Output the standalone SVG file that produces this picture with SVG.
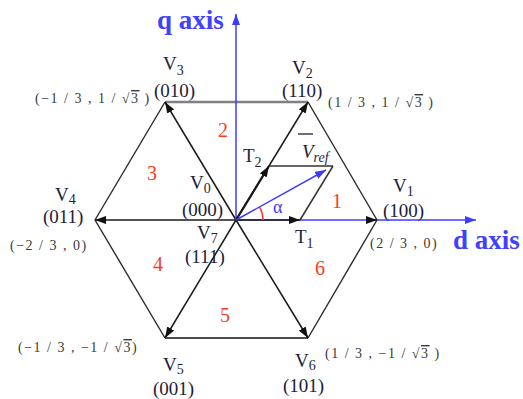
<svg xmlns="http://www.w3.org/2000/svg" width="523" height="399" viewBox="0 0 523 399">
<defs>
<marker id="ah" markerUnits="userSpaceOnUse" markerWidth="12" markerHeight="8" refX="11" refY="4" orient="auto"><path d="M0,0 L11,4 L0,8 z" fill="#111"/></marker>
<marker id="ahb" markerUnits="userSpaceOnUse" markerWidth="12" markerHeight="8" refX="11" refY="4" orient="auto"><path d="M0,0 L11,4 L0,8 z" fill="#3c3cff"/></marker>
<style>
.edge{stroke:#2a2a2a;stroke-width:1.4;fill:none}
.spoke{stroke:#1a1a1a;stroke-width:1.5;fill:none}
.axis{stroke:#3c3cff;stroke-width:1.5;fill:none}
text{font-family:"Liberation Serif","Times New Roman",serif}
.lbl{font-size:19px;fill:#1e1e38}
.sub{font-size:14px}
.crd{font-size:14px;fill:#3a3a3a;letter-spacing:1.5px}
.reg{font-size:20px;fill:#ff3a1a}
.ax{font-size:27px;font-weight:bold;fill:#4040ff}
.ov{text-decoration:overline}
</style>
</defs>
<g id="connectors">
<line class="edge" x1="377" y1="220" x2="308" y2="102"/>
<line class="edge" x1="308" y1="102" x2="165" y2="102" style="stroke:#808080;stroke-width:2.5"/>
<line class="edge" x1="165" y1="102" x2="95" y2="220"/>
<line class="edge" x1="95" y1="220" x2="165" y2="338"/>
<line class="edge" x1="165" y1="338" x2="308" y2="338" style="stroke:#111;stroke-width:1.6"/>
<line class="edge" x1="308" y1="338" x2="377" y2="220"/>
<line class="spoke" x1="236" y1="220" x2="308" y2="102" marker-end="url(#ah)"/>
<line class="spoke" x1="236" y1="220" x2="165" y2="102" marker-end="url(#ah)"/>
<line class="spoke" x1="236" y1="220" x2="95" y2="220" marker-end="url(#ah)"/>
<line class="spoke" x1="236" y1="220" x2="165" y2="338" marker-end="url(#ah)"/>
<line class="spoke" x1="236" y1="220" x2="308" y2="338" marker-end="url(#ah)"/>
<line class="axis" x1="236" y1="220" x2="476" y2="220" marker-end="url(#ahb)"/>
<line class="axis" x1="236" y1="220" x2="236" y2="14" marker-end="url(#ahb)"/>
<line class="spoke" x1="366" y1="220" x2="377" y2="220" marker-end="url(#ah)"/>
<line class="spoke" x1="236" y1="220" x2="300" y2="220" marker-end="url(#ah)"/>
<line class="spoke" x1="236" y1="220" x2="269" y2="166" style="stroke-width:2.2" marker-end="url(#ah)"/>
<line class="spoke" x1="269" y1="166" x2="333" y2="166" style="stroke:#333"/>
<line class="spoke" x1="333" y1="166" x2="300" y2="220" style="stroke:#333"/>
<line class="axis" x1="236" y1="220" x2="326" y2="170" marker-end="url(#ahb)"/>
<path d="M263,220 A27,27 0 0 0 259.6,206.9" fill="none" stroke="#ff3a3a" stroke-width="1.5"/>
</g>
<g id="axes-labels">
<text class="ax" x="157" y="29">q axis</text>
<text class="ax" x="453" y="249">d axis</text>
</g>
<g id="v1"><text class="lbl" x="393" y="192">V<tspan class="sub" dy="4">1</tspan></text><text class="lbl" x="383" y="217">(100)</text><text class="crd" x="370" y="248">(2 / 3 , 0)</text></g>
<g id="v2"><text class="lbl" x="292" y="74">V<tspan class="sub" dy="4">2</tspan></text><text class="lbl" x="282" y="97">(110)</text><text class="crd" x="328" y="107">(1 / 3 , 1 / √<tspan class="ov">3</tspan> )</text></g>
<g id="v3"><text class="lbl" x="163" y="70">V<tspan class="sub" dy="5">3</tspan></text><text class="lbl" x="154" y="97">(010)</text><text class="crd" x="35" y="103">(−1 / 3 , 1 / √<tspan class="ov">3</tspan> )</text></g>
<g id="v4"><text class="lbl" x="55" y="201">V<tspan class="sub" dy="3">4</tspan></text><text class="lbl" x="43" y="223">(011)</text><text class="crd" x="10" y="250">(−2 / 3 , 0)</text></g>
<g id="v5"><text class="crd" x="18" y="352">(−1 / 3 , −1 / √<tspan class="ov">3</tspan>)</text><text class="lbl" x="163" y="371">V<tspan class="sub" dy="3">5</tspan></text><text class="lbl" x="153" y="395">(001)</text></g>
<g id="v6"><text class="crd" x="325" y="358">(1 / 3 , −1 / √<tspan class="ov">3</tspan> )</text><text class="lbl" x="295" y="367">V<tspan class="sub" dy="3">6</tspan></text><text class="lbl" x="283" y="392">(101)</text></g>
<g id="v0"><text class="lbl" x="190" y="189">V<tspan class="sub" dy="4">0</tspan></text><text class="lbl" x="182" y="216">(000)</text></g>
<g id="v7"><text class="lbl" x="197" y="239">V<tspan class="sub" dy="4">7</tspan></text><text class="lbl" x="185" y="263">(111)</text></g>
<g id="t1"><text class="lbl" x="295" y="243">T<tspan class="sub" dy="5">1</tspan></text></g>
<g id="t2"><text class="lbl" x="243" y="162">T<tspan class="sub" dy="5">2</tspan></text></g>
<g id="vref"><line x1="298" y1="134" x2="313" y2="134" stroke="#1e1e38" stroke-width="1.3"/><text class="lbl" x="302" y="158" font-style="italic" font-size="20">V<tspan class="sub" dy="4">ref</tspan></text></g>
<g id="alpha"><text x="273" y="213" font-size="18" fill="#3c3cff">α</text></g>
<g id="regions">
<text class="reg" x="332" y="208">1</text>
<text class="reg" x="218" y="137">2</text>
<text class="reg" x="147" y="180">3</text>
<text class="reg" x="153" y="271">4</text>
<text class="reg" x="220" y="322">5</text>
<text class="reg" x="315" y="275">6</text>
</g>
</svg>
